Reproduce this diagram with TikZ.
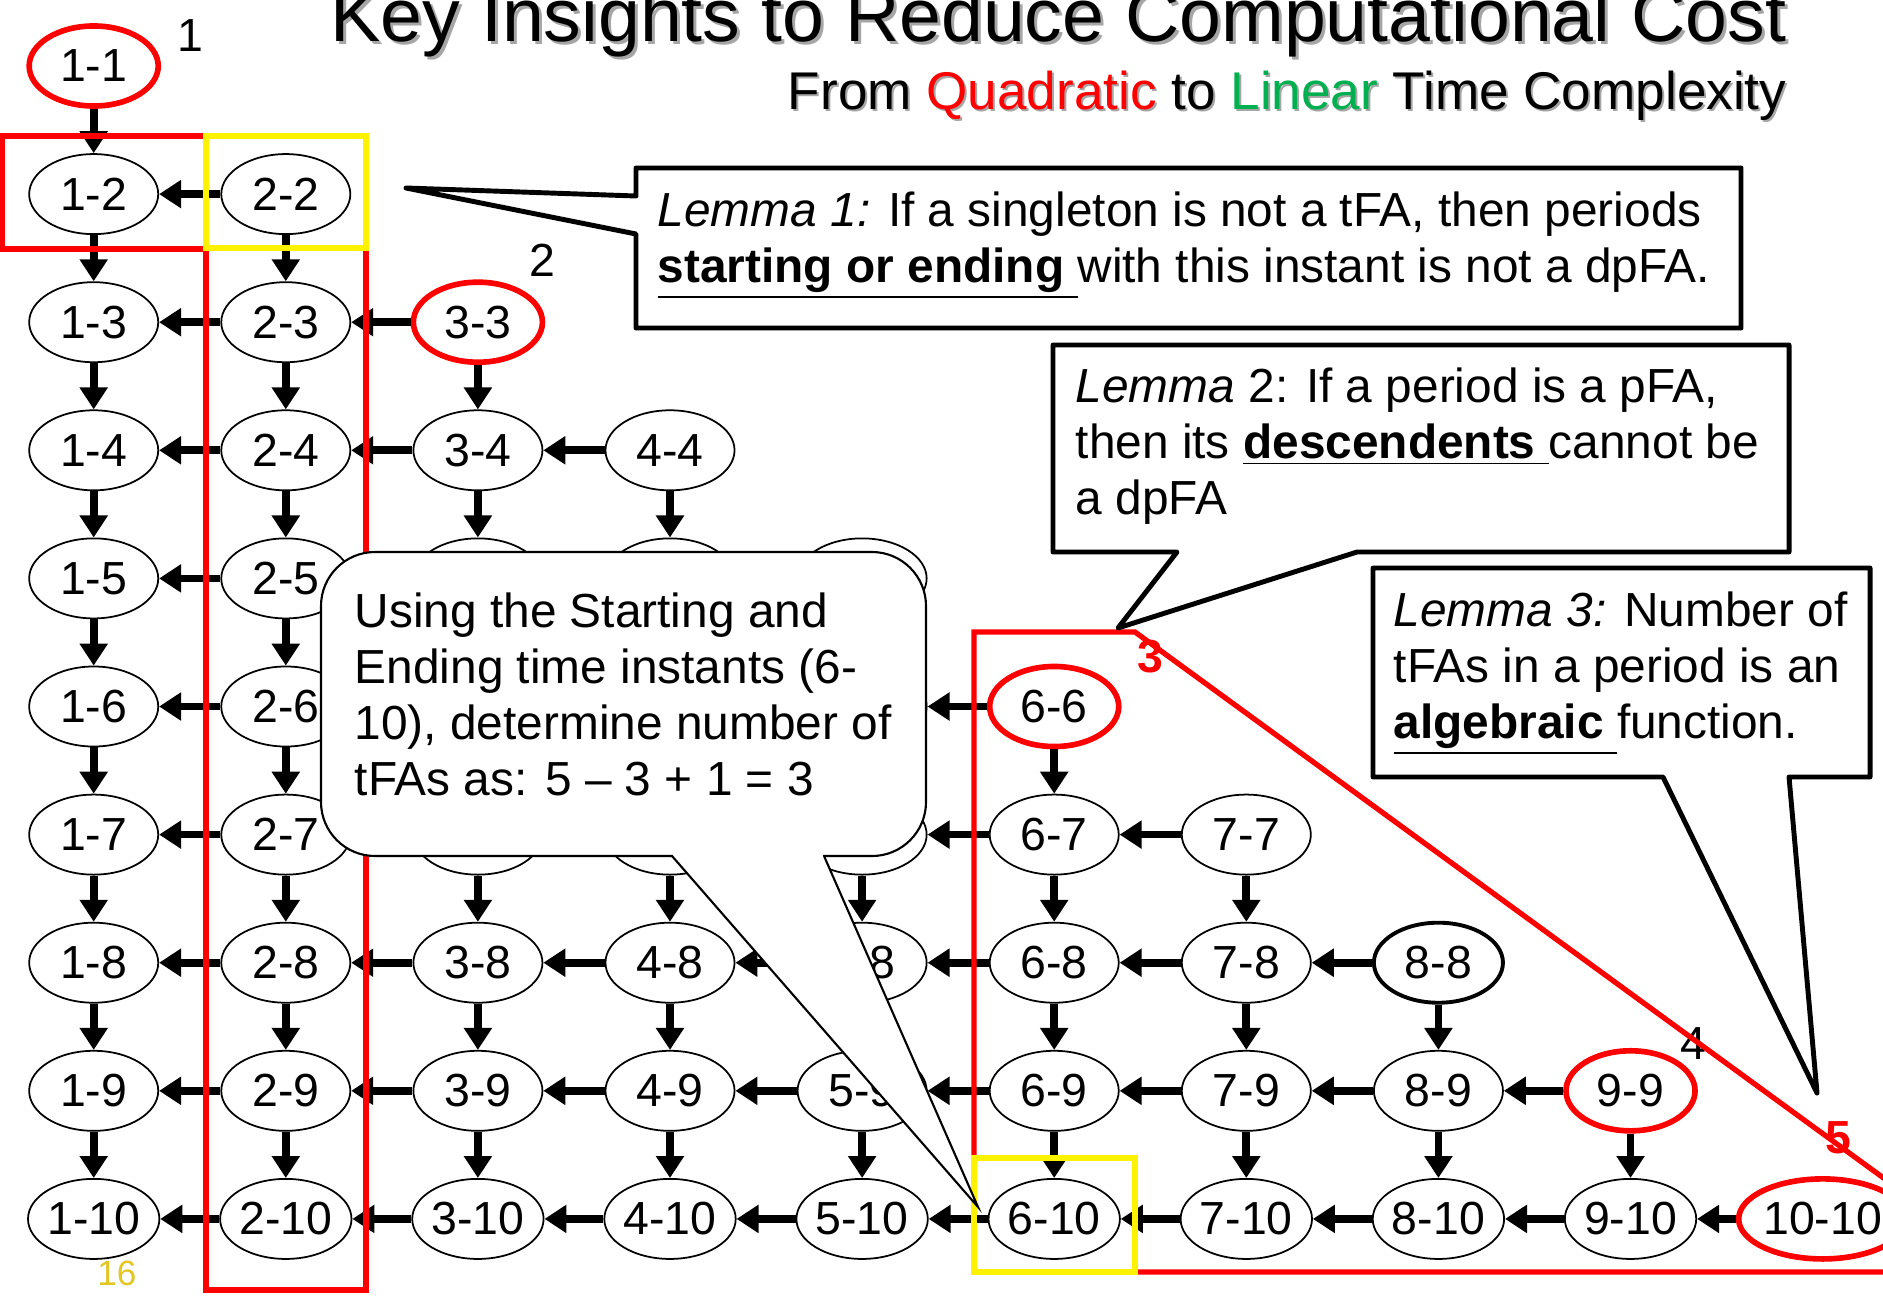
\documentclass[tikz,border=0pt]{standalone}
\usepackage{fontspec}
\setmainfont{Liberation Sans}
\usetikzlibrary{shapes.geometric,arrows.meta}
\tikzset{>={Triangle[length=0.22cm,width=0.27cm]}}
\definecolor{lingreen}{RGB}{0,176,80}
\definecolor{slidegold}{RGB}{226,198,36}
\tikzset{
  period/.style={ellipse, draw, line width=0.5pt, fill=white, minimum width=1.29cm,
    minimum height=0.8cm, inner sep=0pt, font=\fontsize{13.2}{15}\selectfont},
  marked/.style={period, draw=red, line width=1.6pt},
  boldp/.style={period, line width=1.1pt},
  link/.style={->, line width=2.2pt},
  redbox/.style={draw=red, line width=1.5pt},
  yellowbox/.style={draw=yellow, line width=1.7pt},
  lemma/.style={draw, line width=1.4pt, fill=white, line join=round},
  lemmatext/.style={anchor=base west, inner sep=0pt, align=left,
    font=\fontsize{13.6}{15.9}\selectfont},
  stepno/.style={inner sep=0pt, font=\fontsize{13.2}{15}\selectfont},
  rednum/.style={inner sep=0pt, text=red, font=\fontsize{13.2}{15}\selectfont\bfseries}
}

\begin{document}
\begin{tikzpicture}[x=0.01cm, y=-0.01cm]
\useasboundingbox (0,0) rectangle (1883,1297);

% heading
\node[anchor=base east, inner sep=0pt, text=black!35, font=\fontsize{21.4}{25}\selectfont]
  (titleshade) at (1790,45) {Key Insights to Reduce Computational Cost};
\node[anchor=base east, inner sep=0pt, font=\fontsize{21.4}{25}\selectfont]
  (title) at (1787,42) {Key Insights to Reduce Computational Cost};
\node[anchor=base east, inner sep=0pt, text=black!35, font=\fontsize{15.1}{18}\selectfont]
  (subshade) at (1789,112) {From Quadratic to Linear Time Complexity};
\node[anchor=base east, inner sep=0pt, font=\fontsize{15.1}{18}\selectfont]
  (subtitle) at (1787,110) {From \textcolor{red}{Quadratic} to \textcolor{lingreen}{Linear} Time Complexity};

% singletons on the diagonal
\foreach \i/\s in {1/marked,2/period,3/marked,4/period,5/period,6/marked,7/period,8/boldp,9/marked,10/marked}
  \node[\s] (p\i-\i) at ({93.7+192.1*(\i-1)},{66+128.1*(\i-1)}) {\i-\i};

% periods i-j
\foreach \i in {1,...,9}{
  \pgfmathtruncatemacro\first{\i+1}
  \foreach \j in {\first,...,10}
    \node[period] (p\i-\j) at ({93.7+192.1*(\i-1)},{66+128.1*(\j-1)}) {\i-\j};
}

% descend: i-j to i-(j+1)
\foreach \i in {1,...,9}
  \foreach \j in {\i,...,9}{
    \pgfmathtruncatemacro\nxt{\j+1}
    \draw[link] (p\i-\j) -- (p\i-\nxt);
  }

% descend: i-j to (i-1)-j
\foreach \i in {2,...,10}
  \foreach \j in {\i,...,10}{
    \pgfmathtruncatemacro\prv{\i-1}
    \draw[link] (p\i-\j) -- (p\prv-\j);
  }

\node[stepno] (s1) at (190,36) {1};
\node[stepno] (s2) at (542,260) {2};
\node[rednum] (s3) at (1150,657) {3};
\node[stepno] (s4) at (1693,1044) {4};
\node[rednum] (s5) at (1838,1138) {5};

% pruned regions
\draw[redbox] (2,136) rectangle (206,249);
\draw[redbox] (206,136) rectangle (366,1290);
\draw[redbox] (1900,1190) -- (1135,632) -- (974,632) -- (974,1272) -- (1900,1272);
\draw[yellowbox] (206,136) rectangle (366,248);
\draw[yellowbox] (974,1158) rectangle (1135,1272);

% callout on 6-10
\draw[fill=white, line width=0.6pt, rounded corners=0.54cm] (321,552) rectangle (926,856);
\fill[white] (672,856) -- (978,1207) -- (824,856) -- cycle;
\draw[white, line width=1.2pt] (673,856) -- (823,856);
\draw[line width=0.6pt] (672,856) -- (978,1207) -- (824,856);
\node[lemmatext] (usage) at (354,795)
  {Using the Starting and\\Ending time instants (6-\\10), determine number of\\tFAs as: 5 – 3 + 1 = 3};

% lemmas
\draw[lemma] (636,168) -- (1741,168) -- (1741,328) -- (636,328) -- (636,234) -- (406,188) -- (636,196) -- cycle;
\node[lemmatext] (lem1) at (657,282)
  {\textit{Lemma 1:} If a singleton is not a tFA, then periods\\
   \underline{\textbf{starting or ending}\ }with this instant is not a dpFA.};

\draw[lemma] (1053,345) -- (1789,345) -- (1789,552) -- (1357,552) -- (1118,628) -- (1177,552) -- (1053,552) -- cycle;
\node[lemmatext] (lem2) at (1075,514)
  {\textit{Lemma} 2: If a period is a pFA,\\then its \underline{\textbf{descendents}\ }cannot be\\a dpFA};

\draw[lemma] (1373,568) -- (1870,568) -- (1870,777) -- (1789,777) -- (1817,1093) -- (1663,777) -- (1373,777) -- cycle;
\node[lemmatext] (lem3) at (1393,738)
  {\textit{Lemma 3:} Number of\\tFAs in a period is an\\\underline{\textbf{algebraic}\ }function.};

\node[inner sep=0pt, text=slidegold, font=\fontsize{10}{12}\selectfont] (pageno) at (117,1273) {16};
\end{tikzpicture}
\end{document}
